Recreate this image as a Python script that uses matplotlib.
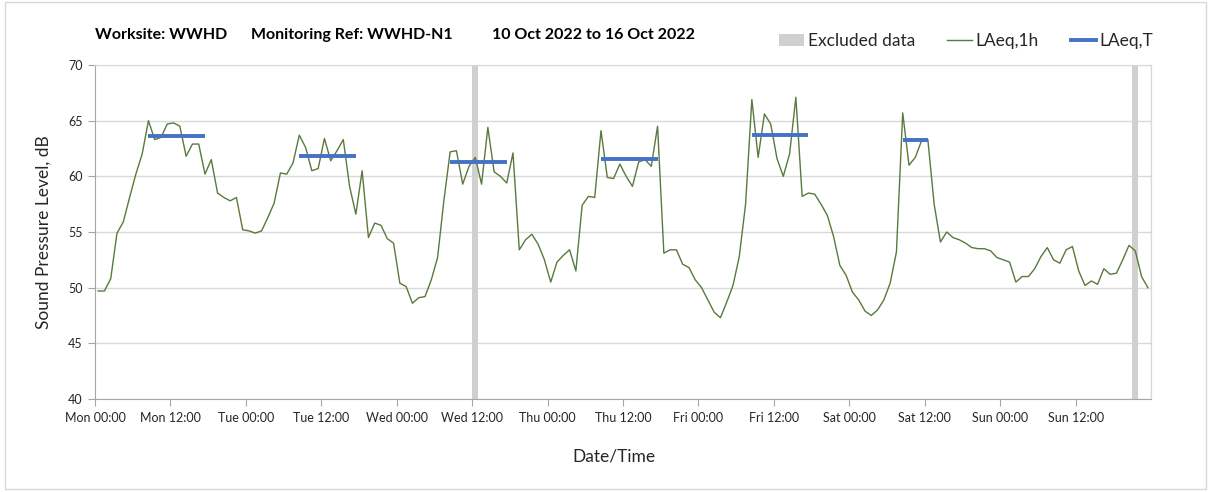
# Hourly LAeq and period LAeq,T for one week of noise monitoring

import matplotlib
matplotlib.use("Agg")
import matplotlib.pyplot as plt
import numpy as np

plt.rcParams['font.family'] = ['Lato', 'DejaVu Sans']

# hourly LAeq,1h values, Mon 00:00 .. Sun 23:00 (168 hours)
laeq_1h = [
    49.7, 49.7, 50.8, 54.9, 55.9, 58.1, 60.2, 62.0, 65.0, 63.3, 63.5, 64.7,
    64.8, 64.5, 61.8, 62.9, 62.9, 60.2, 61.5, 58.5, 58.1, 57.8, 58.1, 55.2,
    55.1, 54.9, 55.1, 56.3, 57.6, 60.3, 60.2, 61.2, 63.7, 62.6, 60.5, 60.7,
    63.4, 61.4, 62.3, 63.3, 59.1, 56.6, 60.5, 54.5, 55.8, 55.6, 54.4, 54.0,
    50.4, 50.1, 48.6, 49.1, 49.2, 50.7, 52.7, 57.8, 62.2, 62.3, 59.3, 60.9,
    61.7, 59.3, 64.4, 60.4, 60.0, 59.4, 62.1, 53.4, 54.3, 54.8, 53.9, 52.5,
    50.5, 52.3, 52.9, 53.4, 51.5, 57.4, 58.2, 58.1, 64.1, 59.9, 59.8, 61.1,
    60.0, 59.1, 61.3, 61.5, 60.9, 64.5, 53.1, 53.4, 53.4, 52.1, 51.8, 50.7,
    50.0, 48.9, 47.8, 47.3, 48.7, 50.2, 52.8, 57.5, 66.9, 61.7, 65.6, 64.7,
    61.6, 60.0, 62.0, 67.1, 58.2, 58.5, 58.4, 57.5, 56.5, 54.6, 52.0, 51.1,
    49.6, 48.9, 47.9, 47.5, 48.0, 48.9, 50.4, 53.2, 65.7, 61.0, 61.7, 63.2,
    63.3, 57.5, 54.1, 55.0, 54.5, 54.3, 54.0, 53.6, 53.5, 53.5, 53.3, 52.7,
    52.5, 52.3, 50.5, 51.0, 51.0, 51.7, 52.8, 53.6, 52.5, 52.2, 53.4, 53.7,
    51.5, 50.2, 50.6, 50.3, 51.7, 51.2, 51.3, 52.5, 53.8, 53.3, 51.0, 50.0,
]

# LAeq,T daytime periods: first hour, last hour, level
period_start = [8, 32, 56, 80, 104, 128]
period_end = [17, 41, 65, 89, 113, 132]
period_level = [63.6, 61.8, 61.3, 61.6, 63.7, 63.3]

# excluded hours
excluded_hours = [60, 165]

tick_labels = ["Mon 00:00", "Mon 12:00", "Tue 00:00", "Tue 12:00",
               "Wed 00:00", "Wed 12:00", "Thu 00:00", "Thu 12:00",
               "Fri 00:00", "Fri 12:00", "Sat 00:00", "Sat 12:00",
               "Sun 00:00", "Sun 12:00"]

green = '#587a3c'
blue = '#4472c4'
grey_band = '#d0d0d0'
grid_c = '#d9d9d9'
text_c = '#262626'

fig = plt.figure(figsize=(12.08, 4.92), dpi=100)
ax = fig.add_axes([95 / 1208, 1 - 399 / 492, (1151 - 95) / 1208, (399 - 65) / 492])

hours = np.arange(len(laeq_1h)) + 0.5

for h in excluded_hours:
    ax.axvspan(h, h + 1, color=grey_band, lw=0, zorder=1)
ax.plot(hours, laeq_1h, color=green, lw=1.0, zorder=3)
for s, e, v in zip(period_start, period_end, period_level):
    ax.plot([s + 0.5, e + 0.5], [v, v], color=blue, lw=2.8,
            solid_capstyle='butt', zorder=4)

ax.set_xlim(0, 168)
ax.set_ylim(40, 70)
ax.set_yticks(np.arange(40, 71, 5))
ax.set_xticks(np.arange(0, 168, 12))
ax.set_xticklabels(tick_labels)
ax.set_xticks(np.arange(0, 169, 24), minor=True)
ax.tick_params(axis='x', which='minor', length=0)
ax.grid(axis='y', color=grid_c, lw=1.0, zorder=0)
ax.grid(axis='x', which='minor', color=grid_c, lw=1.0, zorder=0)
ax.set_axisbelow(True)

ax.tick_params(axis='both', which='major', length=5, color='#a6a6a6',
               labelsize=9, labelcolor=text_c, pad=4)
for side in ['left', 'bottom']:
    ax.spines[side].set_color('#a6a6a6')
for side in ['top', 'right']:
    ax.spines[side].set_color(grid_c)

ax.set_ylabel("Sound Pressure Level, dB", fontsize=12.5, color=text_c, labelpad=12)
fig.text(614 / 1208, 1 - 457 / 492, "Date/Time", fontsize=12.5, color=text_c,
         ha='center', va='center')

# title pieces
ty = 1 - 35 / 492
fig.text(95 / 1208, ty, "Worksite: WWHD", fontsize=11.5, weight='bold', va='center')
fig.text(251 / 1208, ty, "Monitoring Ref: WWHD-N1", fontsize=11.5, weight='bold', va='center')
fig.text(492 / 1208, ty, "10 Oct 2022 to 16 Oct 2022", fontsize=11.5, weight='bold', va='center')

# legend
handles = [
    plt.Rectangle((0, 0), 1, 1, color=grey_band, lw=0),
    plt.Line2D([], [], color=green, lw=1.0),
    plt.Line2D([], [], color=blue, lw=2.8),
]
fig.legend(handles, ["Excluded data", "LAeq,1h", "LAeq,T"], ncol=3,
           frameon=False, fontsize=12.5, handlelength=1.45, handletextpad=0.2,
           columnspacing=1.85, loc='center right',
           bbox_to_anchor=(1169 / 1208, 1 - 41 / 492), labelcolor=text_c)

# light outer border
fig.patches.append(plt.Rectangle((0.004, 0.006), 0.994, 0.99, transform=fig.transFigure,
                                 fill=False, ec='#d9d9d9', lw=1))

fig.savefig('out.png', dpi=100)
